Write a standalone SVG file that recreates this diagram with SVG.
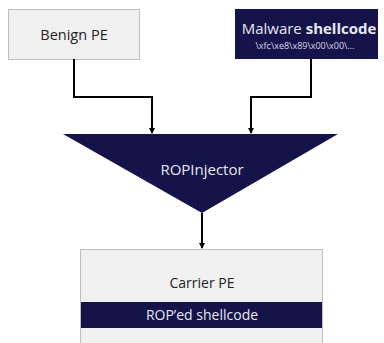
<svg xmlns="http://www.w3.org/2000/svg" width="384" height="343" viewBox="0 0 384 343">
<defs>
<marker id="ah" markerWidth="6" markerHeight="6" refX="5" refY="3" orient="auto" markerUnits="userSpaceOnUse">
<path d="M0,0 L6,3 L0,6 Z" fill="#000"/>
</marker>
<style>
.lt{fill:#f0f0f0;stroke:#bfbfbf;stroke-width:1}
.dk{fill:#15144a}
.t{font-family:"Open Sans","Liberation Sans",sans-serif;text-anchor:middle}
.con{fill:none;stroke:#000;stroke-width:2;marker-end:url(#ah)}
</style>
</defs>
<rect width="384" height="343" fill="#fff"/>
<g id="benign">
<rect class="lt" x="8.5" y="9.5" width="131" height="50"/>
<text class="t" x="74" y="40" font-size="14.5" fill="#222">Benign PE</text>
</g>
<g id="malware">
<rect class="dk" x="235" y="9" width="143" height="50"/>
<text class="t" x="309" y="34" font-size="15" fill="#e8e8f0">Malware <tspan font-weight="bold">shellcode</tspan></text>
<text class="t" x="305" y="49" font-size="9" fill="#d8d8e4">\xfc\xe8\x89\x00\x00\...</text>
</g>
<g id="ropinjector">
<polygon class="dk" points="63,134 338,134 202,213"/>
<text class="t" x="202" y="175" font-size="15" fill="#e8e8f0">ROPInjector</text>
</g>
<g id="carrier">
<rect class="lt" x="80.5" y="249.5" width="242" height="100"/>
<text class="t" x="202" y="288" font-size="14" fill="#222">Carrier PE</text>
<rect class="dk" x="81" y="302" width="241" height="26"/>
<text class="t" x="202" y="320" font-size="14" fill="#e8e8f0">ROP’ed shellcode</text>
</g>
<g id="connectors">
<path class="con" d="M74,59 V97 H152 V133"/>
<path class="con" d="M311,59 V97 H251 V133"/>
<path class="con" d="M202,213 V248"/>
</g>
</svg>
